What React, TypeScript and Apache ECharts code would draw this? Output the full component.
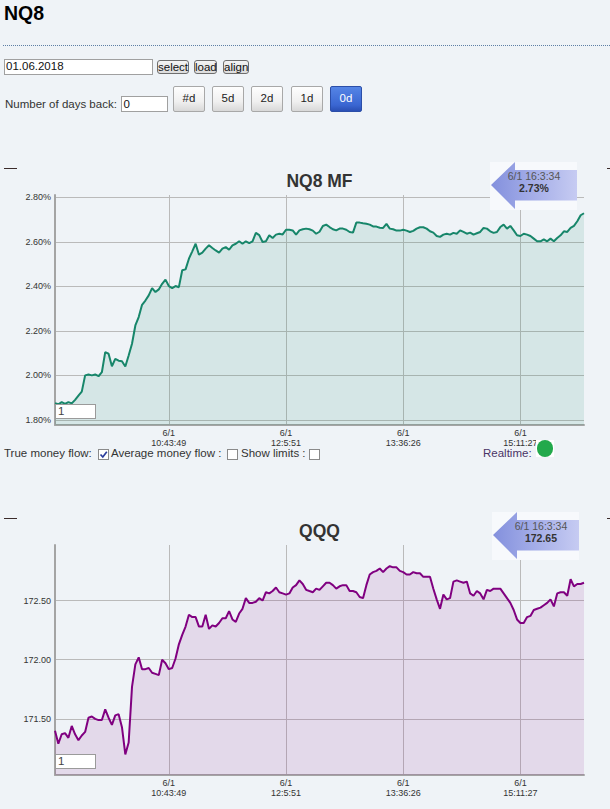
import React, { useEffect, useRef } from 'react';
import * as echarts from 'echarts';

const FONT = '"Liberation Sans", Arial, Helvetica, sans-serif';

// ---------- data ----------
const mfValues = [
  1.875, 1.870, 1.880, 1.872, 1.880, 1.874, 1.890, 1.909, 1.927, 2.000,
  2.004, 2.000, 2.004, 1.996, 2.014, 2.104, 2.097, 2.041, 2.074, 2.066,
  2.063, 2.040, 2.089, 2.142, 2.224, 2.262, 2.317, 2.336, 2.359, 2.392,
  2.374, 2.386, 2.411, 2.430, 2.401, 2.392, 2.401, 2.396, 2.472, 2.476,
  2.524, 2.557, 2.591, 2.542, 2.551, 2.569, 2.584, 2.572, 2.561, 2.551,
  2.569, 2.576, 2.564, 2.584, 2.591, 2.602, 2.591, 2.602, 2.594, 2.602,
  2.640, 2.630, 2.599, 2.602, 2.629, 2.617, 2.632, 2.636, 2.633, 2.654,
  2.654, 2.651, 2.632, 2.651, 2.656, 2.659, 2.656, 2.650, 2.636, 2.645,
  2.671, 2.677, 2.666, 2.656, 2.651, 2.659, 2.659, 2.654, 2.644, 2.641,
  2.686, 2.686, 2.683, 2.681, 2.677, 2.669, 2.668, 2.663, 2.662, 2.680,
  2.659, 2.656, 2.650, 2.650, 2.654, 2.650, 2.644, 2.649, 2.659, 2.665,
  2.665, 2.659, 2.647, 2.641, 2.626, 2.622, 2.632, 2.636, 2.632, 2.640,
  2.636, 2.651, 2.644, 2.636, 2.641, 2.632, 2.638, 2.644, 2.662, 2.659,
  2.647, 2.640, 2.644, 2.666, 2.677, 2.659, 2.671, 2.651, 2.629, 2.626,
  2.636, 2.632, 2.626, 2.614, 2.602, 2.602, 2.611, 2.602, 2.614, 2.602,
  2.617, 2.629, 2.647, 2.644, 2.662, 2.671, 2.692, 2.719, 2.728,
];

const qqqValues = [
  171.40, 171.29, 171.37, 171.38, 171.34, 171.44, 171.37, 171.32, 171.36, 171.39,
  171.51, 171.52, 171.50, 171.49, 171.49, 171.58, 171.51, 171.45, 171.53, 171.54,
  171.43, 171.20, 171.30, 171.77, 171.96, 172.02, 171.92, 171.92, 171.93, 171.89,
  171.88, 171.87, 172.00, 171.97, 171.92, 171.93, 172.01, 172.13, 172.21, 172.28,
  172.38, 172.36, 172.36, 172.28, 172.28, 172.38, 172.26, 172.29, 172.28, 172.31,
  172.35, 172.35, 172.41, 172.34, 172.32, 172.39, 172.43, 172.52, 172.48, 172.48,
  172.49, 172.52, 172.50, 172.57, 172.56, 172.58, 172.61, 172.57, 172.56, 172.55,
  172.56, 172.61, 172.63, 172.67, 172.64, 172.59, 172.58, 172.57, 172.60, 172.59,
  172.62, 172.65, 172.65, 172.63, 172.60, 172.62, 172.63, 172.63, 172.58, 172.58,
  172.57, 172.53, 172.52, 172.63, 172.72, 172.74, 172.75, 172.77, 172.74, 172.77,
  172.79, 172.78, 172.78, 172.75, 172.74, 172.72, 172.72, 172.74, 172.73, 172.73,
  172.70, 172.70, 172.70, 172.60, 172.51, 172.43, 172.55, 172.51, 172.52, 172.66,
  172.67, 172.66, 172.65, 172.66, 172.56, 172.54, 172.58, 172.56, 172.51, 172.59,
  172.58, 172.60, 172.60, 172.60, 172.56, 172.52, 172.48, 172.42, 172.34, 172.31,
  172.31, 172.36, 172.37, 172.42, 172.43, 172.44, 172.46, 172.48, 172.51, 172.45,
  172.56, 172.57, 172.57, 172.54, 172.68, 172.62, 172.64, 172.64, 172.65,
];

const xTickIndex = [34, 69, 104, 139];
const xTickLabels = ['6/1\n10:43:49', '6/1\n12:5:51', '6/1\n13:36:26', '6/1\n15:11:27'];
const mfTicks = [1.8, 2.0, 2.2, 2.4, 2.6, 2.8];
const qqqTicks = [171.5, 172.0, 172.5];
const mfRange = [1.777, 2.81];
const qqqRange = [171.026, 172.969];
const lastTime = '6/1 16:3:34';
const dayButtons = ['#d', '5d', '2d', '1d', '0d'];

const categories = mfValues.map((_, i) => String(i));

// ---------- chart option ----------
const gridLine = { color: '#bababa', width: 1 };
const axisLineStyle = { color: '#a4a4a4', width: 2 };
const isTick = (i: number) => xTickIndex.includes(i);

function xAxisFor(gridIndex: number) {
  return {
    gridIndex,
    type: 'category',
    boundaryGap: false,
    data: categories,
    axisLine: { show: true, onZero: false, lineStyle: axisLineStyle },
    axisTick: { show: false },
    axisLabel: {
      interval: (i: number) => isTick(i),
      formatter: (v: string) => xTickLabels[xTickIndex.indexOf(Number(v))] ?? '',
      fontSize: 9,
      lineHeight: 10,
      color: '#333',
      fontFamily: FONT,
      margin: 2.5,
    },
    splitLine: { show: true, interval: (i: number) => isTick(i), lineStyle: gridLine },
  };
}

function yAxisFor(gridIndex: number, range: number[], ticks: number[], fmt: (v: number) => string) {
  return {
    gridIndex,
    type: 'value',
    min: range[0],
    max: range[1],
    axisLine: { show: true, lineStyle: axisLineStyle },
    axisTick: { show: false, customValues: ticks },
    axisLabel: {
      customValues: ticks,
      formatter: fmt,
      fontSize: 9,
      color: '#333',
      fontFamily: FONT,
      margin: 4,
    },
    splitLine: { show: true, lineStyle: gridLine },
  };
}

function callout(boxX: number, boxY: number, textX: number, valueText: string) {
  const p = (dx: number, dy: number) => [boxX + dx, boxY + dy];
  return [
    {
      type: 'rect',
      z: 10,
      shape: { x: boxX, y: boxY, width: 87, height: 48 },
      style: { fill: '#f7f9fc' },
      silent: true,
    },
    {
      type: 'polygon',
      z: 11,
      shape: {
        points: [p(1, 23), p(25, 0), p(25, 8), p(87, 8), p(87, 38.5), p(25, 38.5), p(25, 47)],
      },
      style: {
        fill: {
          type: 'linear', x: 0, y: 0, x2: 1, y2: 0,
          colorStops: [
            { offset: 0, color: '#8390dd' },
            { offset: 0.4, color: '#9ea8e6' },
            { offset: 1, color: '#c6cbf2' },
          ],
        },
      },
      silent: true,
    },
    {
      type: 'text', z: 12, x: textX, y: boxY + 14,
      style: { text: lastTime, fill: '#555', fontSize: 10.5, fontFamily: FONT, textAlign: 'center', textVerticalAlign: 'middle' },
      silent: true,
    },
    {
      type: 'text', z: 12, x: textX, y: boxY + 26,
      style: { text: valueText, fill: '#333', fontSize: 10.5, fontWeight: 'bold', fontFamily: FONT, textAlign: 'center', textVerticalAlign: 'middle' },
      silent: true,
    },
  ];
}

function dashes(y: number) {
  return [
    { type: 'line', z: 10, shape: { x1: 4, y1: y, x2: 17, y2: y }, style: { stroke: '#3b2b2b', lineWidth: 1 }, silent: true },
    { type: 'line', z: 10, shape: { x1: 607, y1: y, x2: 610, y2: y }, style: { stroke: '#3b2b2b', lineWidth: 1 }, silent: true },
  ];
}

function titleText(text: string, y: number) {
  return {
    type: 'text', z: 10, x: 319.5, y,
    style: { text, fill: '#333', fontSize: 17.5, fontWeight: 'bold', fontFamily: FONT, textAlign: 'center', textVerticalAlign: 'middle' },
    silent: true,
  };
}

const mfLast = mfValues[mfValues.length - 1];
const qqqLast = qqqValues[qqqValues.length - 1];

const option = {
  animation: false,
  backgroundColor: 'transparent',
  textStyle: { fontFamily: FONT },
  grid: [
    { left: 55, top: 195, width: 529, height: 230, outerBoundsMode: 'none', containLabel: false },
    { left: 55, top: 545, width: 529, height: 230, outerBoundsMode: 'none', containLabel: false },
  ],
  xAxis: [xAxisFor(0), xAxisFor(1)],
  yAxis: [
    yAxisFor(0, mfRange, mfTicks, (v: number) => v.toFixed(2) + '%'),
    yAxisFor(1, qqqRange, qqqTicks, (v: number) => v.toFixed(2)),
  ],
  series: [
    {
      name: 'NQ8 MF',
      type: 'line',
      xAxisIndex: 0,
      yAxisIndex: 0,
      data: mfValues,
      showSymbol: false,
      symbol: 'none',
      silent: true,
      lineStyle: { color: '#17866a', width: 2 },
      itemStyle: { color: '#17866a' },
      areaStyle: { color: 'rgba(23,134,106,0.17)', origin: 'start' },
    },
    {
      name: 'QQQ',
      type: 'line',
      xAxisIndex: 1,
      yAxisIndex: 1,
      data: qqqValues,
      showSymbol: false,
      symbol: 'none',
      silent: true,
      lineStyle: { color: '#800080', width: 2 },
      itemStyle: { color: '#800080' },
      areaStyle: { color: 'rgba(128,0,128,0.15)', origin: 'start' },
    },
  ],
  graphic: [
    ...dashes(168.5),
    ...dashes(518.5),
    titleText('NQ8 MF', 181),
    titleText('QQQ', 531),
    ...callout(490, 162, 534, mfLast.toFixed(2) + '%'),
    ...callout(492, 512, 541, qqqLast.toFixed(2)),
  ],
};

// ---------- HTML helpers ----------
function Txt(props: { x: number; base: number; size?: number; children: React.ReactNode; style?: React.CSSProperties }) {
  const size = props.size ?? 11.5;
  return (
    <div
      style={{
        position: 'absolute',
        left: props.x,
        top: props.base - 0.8465 * size,
        fontSize: size,
        lineHeight: `${size}px`,
        whiteSpace: 'nowrap',
        fontFamily: FONT,
        color: '#333',
        ...props.style,
      }}
    >
      {props.children}
    </div>
  );
}

function Box(props: { x: number; y: number; w: number; h: number; style?: React.CSSProperties; children?: React.ReactNode }) {
  return (
    <div
      style={{
        position: 'absolute',
        left: props.x,
        top: props.y,
        width: props.w,
        height: props.h,
        boxSizing: 'border-box',
        fontFamily: FONT,
        ...props.style,
      }}
    >
      {props.children}
    </div>
  );
}

function SmallButton(props: { x: number; w: number; label: string }) {
  return (
    <Box
      x={props.x}
      y={60}
      w={props.w}
      h={14}
      style={{
        border: '1px solid #6e6e6e',
        borderRadius: 3,
        background: 'linear-gradient(#f4f4f4, #dcdcdc)',
        fontSize: 11.5,
        lineHeight: '12px',
        textAlign: 'center',
        color: '#111',
      }}
    >
      {props.label}
    </Box>
  );
}

const dayButtonX = [173, 212, 251, 291, 330];

function DayButton(props: { i: number }) {
  const active = props.i === dayButtons.length - 1;
  return (
    <Box
      x={dayButtonX[props.i]}
      y={86}
      w={32}
      h={26}
      style={{
        border: active ? '1px solid #2b4ea8' : '1px solid #a8a8a8',
        borderRadius: 2,
        background: active ? 'linear-gradient(#5585e6 0%, #3a66d2 75%, #2a4fb4 100%)' : 'linear-gradient(#fefefe 0%, #f0f0f0 60%, #d8d8d8 100%)',
        color: active ? '#fff' : '#222',
        fontSize: 11.5,
        lineHeight: '22px',
        textAlign: 'center',
      }}
    >
      {dayButtons[props.i]}
    </Box>
  );
}

function CheckBox(props: { x: number; checked?: boolean }) {
  return (
    <Box x={props.x} y={449} w={11} h={11} style={{ border: '1px solid #8a8a8a', background: '#fff' }}>
      {props.checked ? (
        <svg width={9} height={9} style={{ position: 'absolute', left: 0, top: 0 }}>
          <polyline points="1.5,4.5 3.8,7 7.8,1.8" fill="none" stroke="#2a3c9c" strokeWidth={1.7} />
        </svg>
      ) : null}
    </Box>
  );
}

export default function App() {
  const ref = useRef<HTMLDivElement>(null);

  useEffect(() => {
    if (!ref.current) return;
    const chart = echarts.init(ref.current, null, { renderer: 'svg' });
    chart.setOption(option as any);
    return () => chart.dispose();
  }, []);

  return (
    <div
      style={{
        position: 'absolute',
        left: 0,
        top: 0,
        width: 610,
        height: 809,
        background: '#eff3f7',
        overflow: 'hidden',
        fontFamily: FONT,
      }}
    >
      <div ref={ref} style={{ position: 'absolute', left: 0, top: 0, width: 610, height: 809 }} />

      {/* header */}
      <Txt x={4} base={20.7} size={19.5} style={{ fontWeight: 'bold', color: '#000' }}>NQ8</Txt>
      <div style={{ position: 'absolute', left: 3, top: 45, width: 607, height: 0, borderTop: '1px dotted #5d7fa5' }} />

      <Box x={4} y={59} w={149} h={16} style={{ border: '1px solid #a0a0a0', background: '#fff' }} />
      <Txt x={6} base={71} style={{ color: '#111' }}>01.06.2018</Txt>
      <SmallButton x={157} w={32} label="select" />
      <SmallButton x={194} w={23} label="load" />
      <SmallButton x={223} w={26} label="align" />

      <Txt x={5} base={108.3}>Number of days back:</Txt>
      <Box x={121} y={96} w={47} h={16} style={{ border: '1px solid #a0a0a0', background: '#fff' }} />
      <Txt x={123.5} base={108.3} style={{ color: '#111' }}>0</Txt>
      {dayButtons.map((_, i) => (
        <DayButton key={i} i={i} />
      ))}

      {/* chart 1 "1" box */}
      <Box x={55} y={404} w={41} h={15} style={{ border: '1px solid #9a9a9a', background: '#fff' }} />
      <Txt x={58} base={415.5} style={{ color: '#444' }}>1</Txt>

      {/* options row */}
      <Txt x={4} base={457.5}>True money flow:</Txt>
      <CheckBox x={98} checked />
      <Txt x={111} base={457.5}>Average money flow :</Txt>
      <CheckBox x={227} />
      <Txt x={241} base={457.5}>Show limits :</Txt>
      <CheckBox x={309} />
      <Txt x={483} base={457.5} style={{ color: '#4a3466' }}>Realtime:</Txt>
      <Box x={536} y={440} w={18} h={17} style={{ background: '#fff' }} />
      <div
        style={{
          position: 'absolute',
          left: 545 - 8.3,
          top: 448.5 - 8.3,
          width: 16.6,
          height: 16.6,
          borderRadius: '50%',
          background: '#22a94b',
        }}
      />

      {/* chart 2 "1" box */}
      <Box x={55} y={754} w={41} h={15} style={{ border: '1px solid #9a9a9a', background: '#fff' }} />
      <Txt x={58} base={765.5} style={{ color: '#444' }}>1</Txt>
    </div>
  );
}
